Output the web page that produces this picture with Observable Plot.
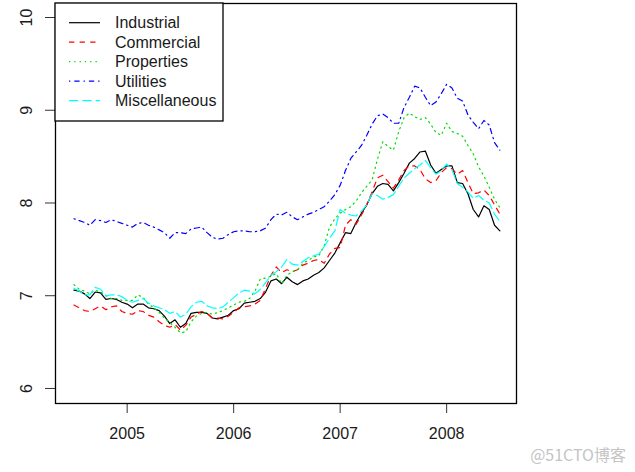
<!DOCTYPE html>
<html>
<head>
<meta charset="utf-8">
<script src="https://cdn.jsdelivr.net/npm/d3@7"></script>
<script src="https://cdn.jsdelivr.net/npm/@observablehq/plot@0.6"></script>
<style>
  html, body { margin: 0; padding: 0; background: #fff; }
  #chart { width: 635px; height: 472px; }
</style>
</head>
<body>
<div id="chart"></div>
<script>
// Time index: samples every 0.05 yr starting mid-2004
const start = 2004.5;
const step = 0.05;

const industrial = [7.06,7.05,7.02,6.97,7.04,7.03,6.96,6.97,6.96,6.93,6.91,6.87,6.91,6.91,6.87,6.86,6.84,6.78,6.70,6.74,
  6.66,6.70,6.81,6.82,6.82,6.81,6.76,6.75,6.77,6.79,6.84,6.86,6.92,6.93,6.94,6.97,7.04,7.16,7.18,7.13,
  7.20,7.15,7.12,7.16,7.18,7.22,7.25,7.30,7.38,7.46,7.57,7.68,7.67,7.79,7.89,7.98,8.10,8.18,8.21,8.20,
  8.13,8.22,8.32,8.43,8.48,8.55,8.56,8.41,8.32,8.36,8.40,8.40,8.22,8.21,8.10,7.93,7.85,7.97,7.93,7.76,7.70];
const commercial = [6.90,6.87,6.84,6.83,6.86,6.89,6.85,6.88,6.89,6.83,6.81,6.80,6.84,6.83,6.79,6.77,6.72,6.68,6.66,6.69,
  6.63,6.68,6.77,6.80,6.83,6.81,6.76,6.76,6.75,6.78,6.82,6.87,6.88,6.89,6.91,6.95,7.08,7.22,7.31,7.25,
  7.28,7.26,7.28,7.33,7.35,7.38,7.39,7.35,7.45,7.51,7.52,7.76,7.82,7.77,7.87,7.98,8.12,8.27,8.30,8.23,
  8.16,8.25,8.35,8.40,8.40,8.36,8.26,8.22,8.24,8.33,8.38,8.37,8.31,8.35,8.22,8.10,8.11,8.14,8.08,7.98,7.88];
const properties = [7.12,7.07,7.05,7.02,7.06,7.04,7.00,6.97,6.97,6.95,6.95,6.95,7.01,6.98,6.91,6.87,6.82,6.76,6.71,6.66,
  6.60,6.61,6.72,6.78,6.81,6.82,6.80,6.82,6.84,6.87,6.90,6.93,6.94,6.97,7.05,7.18,7.19,7.21,7.24,7.13,
  7.22,7.26,7.28,7.35,7.38,7.42,7.43,7.54,7.74,7.83,7.89,7.93,7.96,8.02,8.11,8.18,8.25,8.47,8.66,8.61,
  8.57,8.77,8.92,8.97,8.93,8.90,8.92,8.85,8.76,8.73,8.86,8.77,8.75,8.72,8.62,8.53,8.39,8.29,8.17,8.04,7.95];
const utilities = [7.83,7.81,7.79,7.76,7.82,7.81,7.79,7.82,7.80,7.78,7.76,7.74,7.78,7.79,7.76,7.74,7.71,7.68,7.62,7.68,
  7.68,7.67,7.72,7.73,7.74,7.68,7.63,7.61,7.62,7.66,7.69,7.70,7.70,7.69,7.69,7.70,7.73,7.82,7.88,7.87,
  7.90,7.85,7.82,7.85,7.88,7.90,7.93,7.96,8.02,8.09,8.19,8.35,8.48,8.55,8.62,8.73,8.85,8.94,8.96,8.92,
  8.86,8.86,9.03,9.14,9.26,9.24,9.14,9.05,9.09,9.18,9.28,9.24,9.13,9.10,8.95,8.87,8.80,8.89,8.84,8.65,8.57];
const miscellaneous = [7.08,7.05,7.01,7.01,7.09,7.07,7.00,7.01,7.01,6.99,6.95,6.93,6.95,6.97,6.92,6.89,6.87,6.85,6.81,6.83,
  6.77,6.80,6.88,6.93,6.94,6.89,6.87,6.86,6.88,6.93,6.98,7.03,7.06,7.05,7.02,7.07,7.14,7.22,7.26,7.31,
  7.39,7.34,7.33,7.37,7.41,7.43,7.45,7.53,7.62,7.70,7.93,7.89,7.87,7.86,7.91,7.98,8.10,8.08,8.04,8.06,
  8.09,8.18,8.27,8.32,8.37,8.41,8.46,8.38,8.31,8.35,8.42,8.36,8.21,8.17,8.12,8.05,8.08,8.03,8.00,7.88,7.80];

const seriesNames = ["Industrial", "Commercial", "Properties", "Utilities", "Miscellaneous"];
const seriesValues = [industrial, commercial, properties, utilities, miscellaneous];
const seriesColors = ["#000000", "#ff0000", "#00dd00", "#0000ff", "#00ffff"];
const seriesDash = [null, "5.3,5.3", "1.3,4", "1.3,4,5.3,4", "9.3,4"];

const xTicks = [2005, 2006, 2007, 2008];
const yTicks = [6, 7, 8, 9, 10];

const FONT = "'Liberation Sans', Arial, Helvetica, sans-serif";

const lineMarks = seriesValues.map((vals, k) =>
  Plot.line(vals.map((v, i) => ({t: start + i * step, v})), {
    x: "t", y: "v",
    stroke: seriesColors[k],
    strokeWidth: 1.2,
    strokeDasharray: seriesDash[k] ?? undefined
  })
);

const chart = Plot.plot({
  width: 635,
  height: 472,
  marginLeft: 55,
  marginRight: 119,
  marginTop: 3,
  marginBottom: 69,
  style: {fontFamily: FONT, background: "#fff"},
  x: {domain: [2004.327, 2008.656], label: null},
  y: {domain: [5.838, 10.151], label: null},
  marks: [
    Plot.axisX(xTicks, {tickSize: 10, tickPadding: 14, fontSize: 16, tickFormat: d => String(d), stroke: "#333", fill: "#1a1a1a", label: null}),
    Plot.axisY(yTicks, {tickSize: 10, tickFormat: () => "", stroke: "#333", label: null}),
    Plot.text(yTicks, {y: d => d, text: d => String(d), frameAnchor: "left", dx: -24, rotate: -90,
      textAnchor: "middle", lineAnchor: "bottom", fontSize: 16, fill: "#1a1a1a"}),
    ...lineMarks,
    Plot.frame({stroke: "#000", strokeWidth: 1.3})
  ]
});

document.getElementById("chart").appendChild(chart);

// Legend (R-style boxed legend in the top-left corner of the plot region)
const svg = d3.select(chart);
const lg = svg.append("g").attr("font-family", FONT).attr("font-size", 16).attr("text-anchor", "start");
lg.append("rect").attr("x", 55).attr("y", 3).attr("width", 168).attr("height", 118)
  .attr("fill", "#fff").attr("stroke", "#000").attr("stroke-width", 1.3);
seriesNames.forEach((name, k) => {
  const cy = 22.7 + k * 19.5;
  lg.append("line").attr("x1", 69).attr("x2", 100).attr("y1", cy).attr("y2", cy)
    .attr("stroke", seriesColors[k]).attr("stroke-width", 1.2)
    .attr("stroke-dasharray", seriesDash[k]);
  lg.append("text").attr("x", 115).attr("y", cy + 5.7).attr("fill", "#1a1a1a").text(name);
});

// Watermark
svg.append("text").attr("x", 626).attr("y", 461).attr("text-anchor", "end")
  .attr("font-family", "'Noto Sans CJK SC', 'Noto Sans', sans-serif").attr("font-size", 16)
  .attr("fill", "#c4c4c4").text("@51CTO博客");
</script>
</body>
</html>
